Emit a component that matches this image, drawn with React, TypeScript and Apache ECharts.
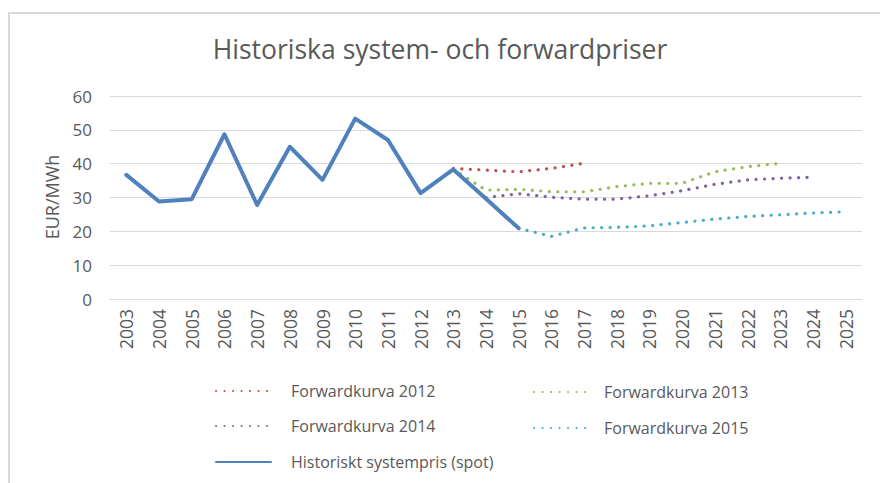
import React, { useEffect, useRef } from "react";
import * as echarts from "echarts";

const years = ["2003","2004","2005","2006","2007","2008","2009","2010","2011","2012","2013","2014","2015","2016","2017","2018","2019","2020","2021","2022","2023","2024","2025"];
const spot = [36.7, 28.8, 29.5, 48.7, 27.8, 45.0, 35.2, 53.3, 47.0, 31.3, 38.3, 29.6, 20.9, null, null, null, null, null, null, null, null, null, null];
const fwd2012 = [null, null, null, null, null, null, null, null, null, null, 38.6, 38.1, 37.6, 38.6, 40.1, null, null, null, null, null, null, null, null];
const fwd2013 = [null, null, null, null, null, null, null, null, null, null, 38.3, 32.2, 32.4, 31.7, 31.7, 33.2, 34.2, 34.2, 37.6, 39.1, 40.1, null, null];
const fwd2014 = [null, null, null, null, null, null, null, null, null, null, null, 30.0, 31.1, 30.1, 29.5, 29.5, 30.5, 32.0, 33.9, 35.2, 35.7, 36.0, null];
const fwd2015 = [null, null, null, null, null, null, null, null, null, null, null, null, 20.9, 18.5, 21.0, 21.2, 21.6, 22.6, 23.6, 24.4, 24.9, 25.4, 25.8];
const yTicks = { min: 0, max: 60, interval: 10 };
const yName = "EUR/MWh";

const names = ["Forwardkurva 2012", "Forwardkurva 2013", "Forwardkurva 2014", "Forwardkurva 2015", "Historiskt systempris (spot)"];
const colors = ["#C0504D", "#9BBB59", "#8064A2", "#4BACC6", "#4F81BD"];

const FONT = "'Open Sans', 'Noto Sans', sans-serif";
const GREY = "#595959";

export default function App() {
  const ref = useRef<HTMLDivElement>(null);
  useEffect(() => {
    document.body.style.margin = "0";
    if (!ref.current) return;
    const chart = echarts.init(ref.current, null, { renderer: "svg" });
    const dotted = (color: string) => ({
      color,
      width: 3.2,
      type: [0.1, 8.4] as number[],
      cap: "round" as const,
    });
    const fwdSeries = [fwd2012, fwd2013, fwd2014, fwd2015].map((d, i) => ({
      name: names[i],
      type: "line" as const,
      data: d,
      symbol: "none",
      showSymbol: false,
      connectNulls: false,
      itemStyle: { color: colors[i] },
      lineStyle: dotted(colors[i]),
      z: 2,
    }));
    const legendPos = [
      { left: 215, top: 383 },
      { left: 533, top: 384 },
      { left: 215, top: 418 },
      { left: 533, top: 420 },
      { left: 215, top: 454 },
    ];
    const legends = names.map((n, i) => ({
      data: [n],
      left: legendPos[i].left,
      top: legendPos[i].top,
      itemWidth: 55,
      itemHeight: 14,
      padding: 0,
      selectedMode: false,
      itemStyle: { opacity: 0 },
      textStyle: { fontFamily: FONT, fontSize: 16, color: GREY, padding: [0, 0, 0, i % 2 === 1 && i < 4 ? 10 : 15] },
    }));
    chart.setOption({
      animation: false,
      title: {
        text: "Historiska system- och forwardpriser",
        left: "center",
        top: 30,
        textStyle: { fontFamily: FONT, fontSize: 26.5, fontWeight: "normal", color: GREY },
      },
      legend: legends,
      grid: { left: 110, right: 18, top: 96, bottom: 184, containLabel: false },
      xAxis: {
        type: "category",
        data: years,
        boundaryGap: true,
        axisLine: { lineStyle: { color: "#d9d9d9", width: 1 } },
        axisTick: { show: false },
        axisLabel: { rotate: 90, margin: 10, fontFamily: FONT, fontSize: 17.5, color: GREY, interval: 0 },
      },
      yAxis: {
        type: "value",
        min: yTicks.min,
        max: yTicks.max,
        interval: yTicks.interval,
        axisLine: { show: false },
        axisTick: { show: false },
        splitLine: { lineStyle: { color: "#d9d9d9", width: 1 } },
        axisLabel: { margin: 18, fontFamily: FONT, fontSize: 17, color: GREY },
      },
      graphic: [
        {
          type: "rect",
          shape: { x: 9, y: 13, width: 900, height: 500 },
          style: { fill: "none", stroke: "#d9d9d9", lineWidth: 2 },
          silent: true,
        },
        {
          type: "text",
          x: 52,
          y: 197,
          rotation: Math.PI / 2,
          style: {
            text: yName,
            align: "center",
            verticalAlign: "middle",
            fontFamily: FONT,
            fontSize: 18,
            fill: GREY,
          },
          silent: true,
        },
      ],
      series: [
        ...fwdSeries,
        {
          name: names[4],
          type: "line",
          data: spot,
          symbol: "none",
          showSymbol: false,
          itemStyle: { color: colors[4] },
          lineStyle: { color: colors[4], width: 4, cap: "round", join: "round" },
          z: 3,
        },
      ],
    });
    return () => chart.dispose();
  }, []);
  return <div ref={ref} style={{ width: 880, height: 483 }} />;
}
